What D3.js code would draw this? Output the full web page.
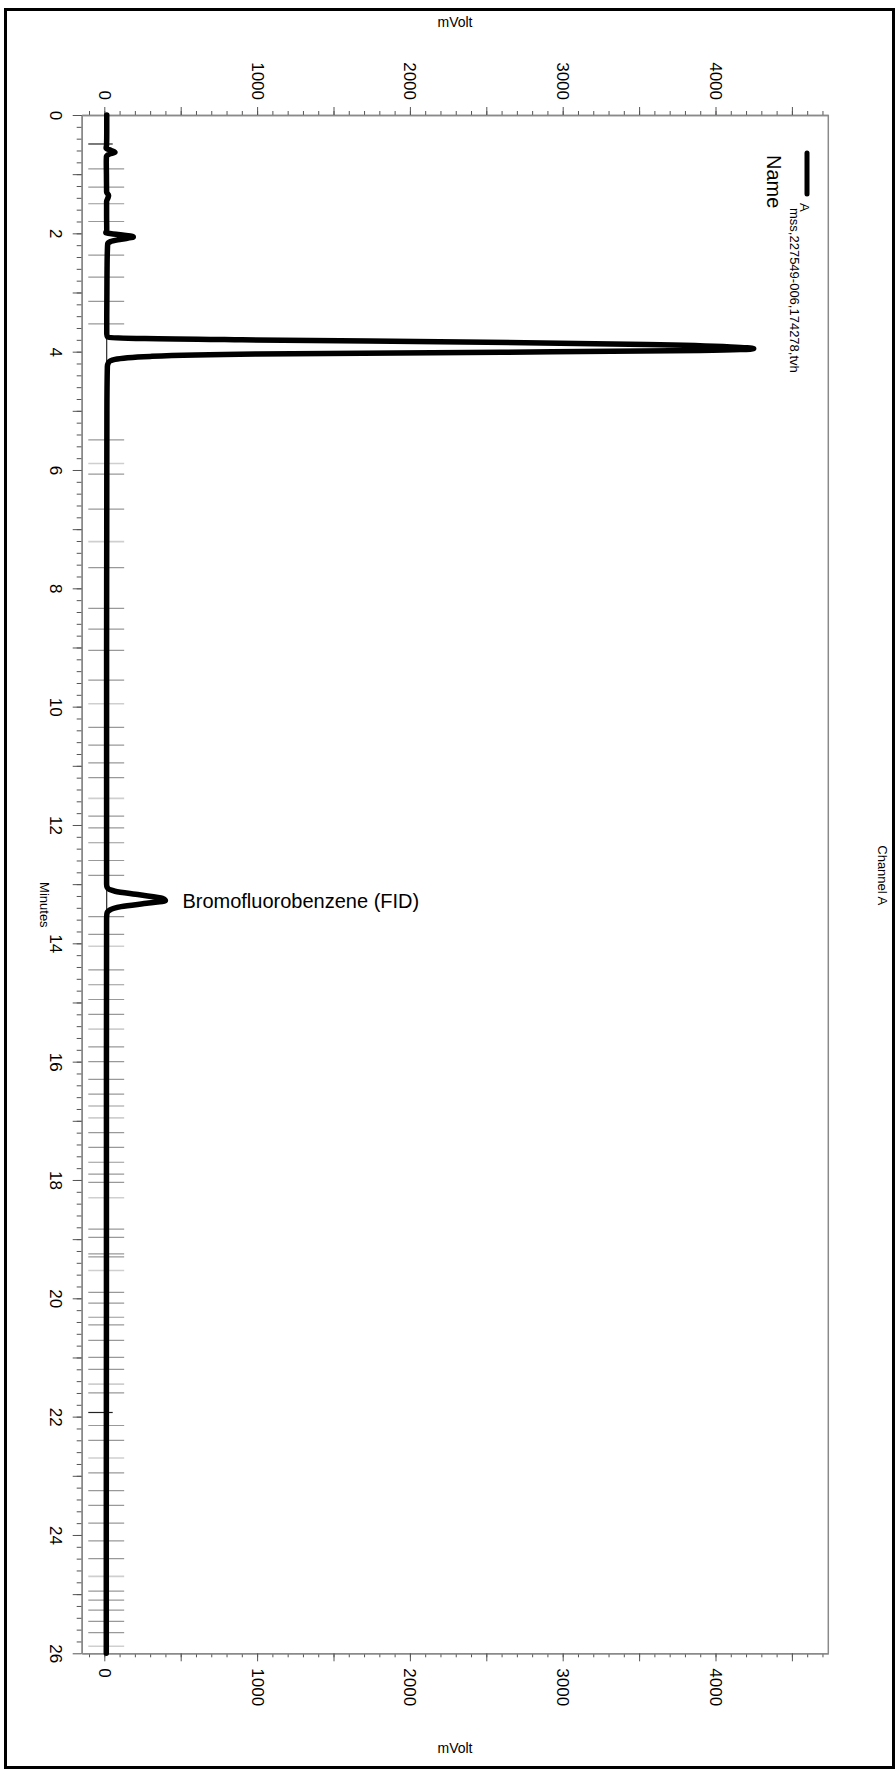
<!DOCTYPE html>
<html><head><meta charset="utf-8">
<script src="https://cdn.jsdelivr.net/npm/d3@7"></script>
<style>
body{margin:0;background:#fff}
svg{display:block}
text{font-family:"Liberation Sans",Arial,Helvetica,sans-serif;fill:#000}
</style>
</head><body>
<svg id="c" width="895" height="1770"></svg>
<script>
// ---------------- data ----------------
const minuteLabelTicks = [0,2,4,6,8,10,12,14,16,18,20,22,24,26];
const mvLabelTicks = [0,1000,2000,3000,4000];
const traceTime = [0,0.3,0.5,0.56,0.6,0.63,0.66,0.7,0.8,1.0,1.3,1.36,1.4,1.46,1.7,1.95,1.99,2.02,2.06,2.10,2.14,2.18,2.3,2.6,3.0,3.4,3.7,3.76,3.80,3.84,3.88,3.92,3.95,3.98,4.01,4.04,4.08,4.13,4.18,4.25,5,7,9,11,13.0,13.06,13.12,13.18,13.24,13.28,13.32,13.38,13.44,13.5,13.6,16,20,24,26];
const traceMv   = [16,16,15,12,45,70,35,14,13,14,15,28,24,15,15,16,10,90,190,110,40,22,20,18,17,16,16,25,900,2500,3550,4100,4250,3900,2600,1000,300,70,28,20,17,16,15,15,15,20,70,230,380,400,290,110,35,17,15,14,14,13,13];
const eventTimes = [0.49,0.91,1.22,1.50,1.80,2.37,2.74,3.15,3.53,5.49,5.89,6.07,6.66,7.21,7.65,8.34,8.69,9.05,9.55,9.95,10.35,10.65,10.95,11.2,11.55,11.85,12.05,12.3,12.6,12.85,13.55,13.85,14.05,14.45,14.7,14.95,15.2,15.45,15.75,16.0,16.3,16.55,16.75,16.95,17.2,17.45,17.70,17.90,18.04,18.30,18.83,18.97,19.25,19.30,19.53,19.90,20.08,20.32,20.45,20.71,21.0,21.2,21.45,21.6,21.93,22.15,22.4,22.7,22.95,23.25,23.5,23.8,24.1,24.4,24.7,24.95,25.1,25.27,25.46,25.65,25.88];
const eventKinds = ["dark","gray","gray","gray","gray","gray","gray","gray","gray","gray","light","gray","gray","light","gray","gray","gray","gray","gray","light","gray","gray","gray","gray","light","gray","gray","gray","gray","gray","gray","gray","light","gray","gray","gray","gray","light","gray","gray","gray","gray","gray","light","gray","gray","gray","gray","gray","light","gray","gray","gray","gray","light","gray","gray","gray","gray","gray","gray","gray","light","gray","dark","gray","gray","light","gray","gray","gray","gray","gray","gray","light","gray","gray","gray","gray","gray","light"];
const peakBaseStart = [3.76,13.05];
const peakBaseEnd   = [4.20,13.50];
const peakLabelTimes = [13.28];
const peakLabelMv    = [400];
const peakLabelTexts = ["Bromofluorobenzene (FID)"];
const legendChannels = ["A"];
const legendFiles = ["mss,227549-006,174278,tvh"];
const chartTitle = "Channel A";
const xTitle = "Minutes";
const yTitle = "mVolt";

// ---------------- scales ----------------
const svg = d3.select("#c");
const y = d3.scaleLinear().domain([0,26]).range([115,1653.3]);
const x = d3.scaleLinear().domain([0,4000]).range([104.3,715.5]);
const xMin = x.invert(81.7), xMax = x.invert(828.3);
const xa = x.copy().domain([xMin,xMax]).range([x(xMin),x(xMax)]);

// frame
svg.append("rect").attr("x",5.5).attr("y",9.5).attr("width",888).attr("height",1758)
  .attr("fill","none").attr("stroke","#000").attr("stroke-width",3);

const axisColor="#8a8a8a", tickColor="#555";
function styleAxis(g){
  g.select(".domain").attr("stroke",axisColor).attr("stroke-width",1.5);
  g.selectAll(".tick line").attr("stroke",tickColor).attr("stroke-width",1);
}
const minorMv = d3.range(-100,4701,100);
const majorMv = d3.range(0,4701,500);
// top axis
const topMinor = svg.append("g").attr("transform","translate(0,115)")
  .call(d3.axisTop(xa).tickValues(minorMv).tickSize(4).tickSizeOuter(0).tickFormat(""));
styleAxis(topMinor);
const topMajor = svg.append("g").attr("transform","translate(0,115)")
  .call(d3.axisTop(xa).tickValues(majorMv).tickSize(8).tickSizeOuter(0)
     .tickFormat(d=>mvLabelTicks.includes(d)?d3.format("d")(d):""));
styleAxis(topMajor);
topMajor.selectAll(".tick text").attr("transform","rotate(90)").attr("x",-15).attr("y",6)
  .attr("dy",null).attr("text-anchor","end").style("font-size","17px").attr("fill","#000");
// bottom axis
const botMinor = svg.append("g").attr("transform","translate(0,1653.3)")
  .call(d3.axisBottom(xa).tickValues(minorMv).tickSize(4).tickSizeOuter(0).tickFormat(""));
styleAxis(botMinor);
const botMajor = svg.append("g").attr("transform","translate(0,1653.3)")
  .call(d3.axisBottom(xa).tickValues(majorMv).tickSize(8).tickSizeOuter(0)
     .tickFormat(d=>mvLabelTicks.includes(d)?d3.format("d")(d):""));
styleAxis(botMajor);
botMajor.selectAll(".tick text").attr("transform","rotate(90)").attr("x",15).attr("y",6)
  .attr("dy",null).attr("text-anchor","start").style("font-size","17px").attr("fill","#000");
// left axis (minutes)
const leftMinor = svg.append("g").attr("transform","translate(81.7,0)")
  .call(d3.axisLeft(y).tickValues(d3.range(0,130).map(i=>i/5)).tickSize(5).tickSizeOuter(0).tickFormat(""));
styleAxis(leftMinor);
const leftMajor = svg.append("g").attr("transform","translate(81.7,0)")
  .call(d3.axisLeft(y).tickValues(d3.range(0,27)).tickSize(9).tickSizeOuter(0)
    .tickFormat(d=>minuteLabelTicks.includes(d)?String(d):""));
styleAxis(leftMajor);
leftMajor.selectAll(".tick text").attr("transform","rotate(90)").attr("x",0).attr("y",31.7)
  .attr("dy",null).attr("text-anchor","middle").style("font-size","17px").attr("fill","#000");
// right border
svg.append("line").attr("x1",xa(xMax)).attr("x2",xa(xMax)).attr("y1",y(0)).attr("y2",y(26))
  .attr("stroke",axisColor).attr("stroke-width",1.5);

// event marks
const evColor = {dark:"#222",gray:"#999",light:"#cfcfcf"};
svg.append("g").selectAll("line").data(eventTimes).join("line")
  .attr("x1",x(-105)).attr("x2",(d,i)=>eventKinds[i]==="dark"?x(55):x(130))
  .attr("y1",d=>y(d)).attr("y2",d=>y(d))
  .attr("stroke",(d,i)=>evColor[eventKinds[i]])
  .attr("stroke-width",(d,i)=>eventKinds[i]==="light"?1.6:1.2);

// peak baselines
svg.append("g").selectAll("line").data(peakBaseStart).join("line")
  .attr("x1",x(16)).attr("x2",x(16))
  .attr("y1",d=>y(d)).attr("y2",(d,i)=>y(peakBaseEnd[i]))
  .attr("stroke","#000").attr("stroke-width",1);

// trace
const pts = traceTime.map((t,i)=>[t,traceMv[i]]);
svg.append("path").datum(pts)
  .attr("d",d3.line().x(d=>x(d[1])).y(d=>y(d[0])).curve(d3.curveMonotoneY))
  .attr("fill","none").attr("stroke","#000").attr("stroke-width",5.5)
  .attr("stroke-linejoin","round").attr("stroke-linecap","round");

// peak labels
svg.append("g").selectAll("text").data(peakLabelTexts).join("text")
  .attr("x",(d,i)=>x(peakLabelMv[i])+17).attr("y",(d,i)=>y(peakLabelTimes[i])+7)
  .style("font-size","20px").text(d=>d);

// titles
svg.append("text").attr("x",455).attr("y",27).attr("text-anchor","middle").style("font-size","14px").text(yTitle);
svg.append("text").attr("x",455).attr("y",1753).attr("text-anchor","middle").style("font-size","14px").text(yTitle);
svg.append("text").attr("transform",`translate(40,${y(13.35)}) rotate(90)`).attr("text-anchor","middle").style("font-size","13px").text(xTitle);
svg.append("text").attr("transform",`translate(878,${y(12.85)}) rotate(90)`).attr("text-anchor","middle").style("font-size","13px").text(chartTitle);

// legend
svg.append("line").attr("x1",807).attr("x2",807).attr("y1",153).attr("y2",194)
  .attr("stroke","#000").attr("stroke-width",5).attr("stroke-linecap","round");
svg.append("text").attr("transform","translate(800,203) rotate(90)").style("font-size","13px").text(legendChannels[0]);
svg.append("text").attr("transform","translate(790,208) rotate(90)").style("font-size","13px").text(legendFiles[0]);
svg.append("text").attr("transform","translate(767,155) rotate(90)").style("font-size","20px").text("Name");
</script>
</body></html>
